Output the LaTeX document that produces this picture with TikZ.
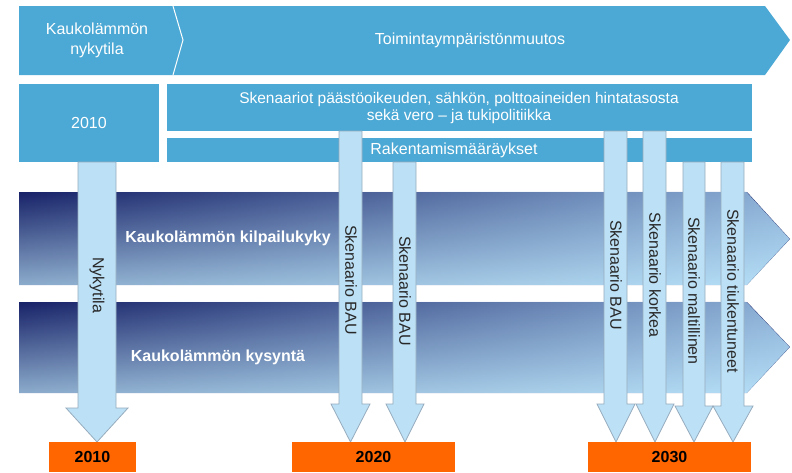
\documentclass[tikz,border=0pt]{standalone}
\usepackage{fontspec}
\setmainfont{Liberation Sans}
\usetikzlibrary{fadings}
\definecolor{topblue}{RGB}{76,168,212}
\definecolor{arrowfill}{RGB}{188,224,245}
\definecolor{arrowline}{RGB}{150,172,190}
\definecolor{bandLT}{RGB}{24,34,104}
\definecolor{bandLB}{RGB}{140,172,204}
\definecolor{bandRT}{RGB}{140,176,214}
\definecolor{bandRB}{RGB}{182,224,248}
\definecolor{yearorange}{RGB}{255,102,0}
\definecolor{labelgray}{RGB}{40,40,40}
\newcommand\fsz{\fontsize{16}{20}\selectfont}
\tikzfading[name=bandfade, left color=transparent!100, right color=transparent!0]
\begin{document}
\begin{tikzpicture}[x=1pt,y=-1pt,
  bluebox/.style={fill=topblue, draw=none},
  wlbl/.style={text=white, font=\fsz, inner sep=0pt, align=center},
  blbl/.style={text=white, font=\fsz\bfseries, inner sep=0pt},
  band/.style={top color=bandLT, bottom color=bandLB, draw=none},
  bandover/.style={top color=bandRT, bottom color=bandRB, path fading=bandfade, draw=none},
  varrow/.style={fill=arrowfill, draw=arrowline, line width=0.8pt, line join=miter},
  vlbl/.style={rotate=-90, text=labelgray, font=\fsz, inner sep=0pt},
  yearbox/.style={fill=yearorange, draw=none},
  ylbl/.style={text=black, font=\fsz\bfseries, inner sep=0pt}]
\useasboundingbox (0,0) rectangle (792,472);
\fill[white] (0,0) rectangle (792,472);

% top chevron bar
\fill[bluebox] (19,6) -- (765,6) -- (790,40) -- (765,75) -- (19,75) -- cycle;
\draw[white, line width=1pt] (173,6) -- (183,40) -- (173,75);
\node[wlbl] (nyky) at (97,40) {Kaukolämmön\\nykytila};
\node[wlbl] (toim) at (470,40) {Toimintaympäristönmuutos};

% second row
\fill[bluebox] (19,84) rectangle (159,162);
\node[wlbl] (y2010top) at (89,123) {2010};
\fill[bluebox] (167,84) rectangle (752,131);
\node[wlbl, font=\fontsize{15.5}{17.5}\selectfont] (skenaariot) at (459,108) {Skenaariot päästöoikeuden, sähkön, polttoaineiden hintatasosta\\sekä vero – ja tukipolitiikka};
\fill[bluebox] (167,138) rectangle (752,162);
\node[wlbl] (rak) at (454,150) {Rakentamismääräykset};

% bands
\shade[band] (19,192) -- (747,192) -- (790,239) -- (747,285) -- (19,285) -- cycle;
\shade[bandover] (19,192) -- (747,192) -- (790,239) -- (747,285) -- (19,285) -- cycle;
\shade[band] (19,302) -- (747,302) -- (790,347) -- (747,393) -- (19,393) -- cycle;
\shade[bandover] (19,302) -- (747,302) -- (790,347) -- (747,393) -- (19,393) -- cycle;
\node[blbl] (kilp) at (228,238) {Kaukolämmön kilpailukyky};
\node[blbl] (kys) at (218,357) {Kaukolämmön kysyntä};

% vertical arrows
\draw[varrow] (78,162) -- (78,408) -- (66,408) -- (97,442) -- (128,408) -- (116,408) -- (116,162) -- cycle;
\node[vlbl] (a1) at (97,285) {Nykytila};

\draw[varrow] (339,131) -- (339,404) -- (331,404) -- (350.5,442) -- (370,404) -- (362,404) -- (362,131) -- cycle;
\node[vlbl] (a2) at (351,280) {Skenaario BAU};

\draw[varrow] (393,162) -- (393,404) -- (386,404) -- (405,442) -- (424,404) -- (416,404) -- (416,162) -- cycle;
\node[vlbl] (a3) at (405,291) {Skenaario BAU};

\draw[varrow] (604,131) -- (604,404) -- (597,404) -- (616,442) -- (635,404) -- (627,404) -- (627,131) -- cycle;
\node[vlbl] (a4) at (616,275) {Skenaario BAU};

\draw[varrow] (643,131) -- (643,404) -- (636,404) -- (655,442) -- (674,404) -- (666,404) -- (666,131) -- cycle;
\node[vlbl] (a5) at (655,275) {Skenaario korkea};

\draw[varrow] (683,162) -- (683,406) -- (675,406) -- (694,442) -- (713,406) -- (705,406) -- (705,162) -- cycle;
\node[vlbl] (a6) at (694,291) {Skenaario maltillinen};

\draw[varrow] (721,162) -- (721,406) -- (713,406) -- (733,442) -- (753,406) -- (744,406) -- (744,162) -- cycle;
\node[vlbl] (a7) at (733,291) {Skenaario tiukentuneet};

% year boxes
\fill[yearbox] (49,442) rectangle (136,472);
\node[ylbl] (y2010) at (92.5,457) {2010};
\fill[yearbox] (292,442) rectangle (455,472);
\node[ylbl] (y2020) at (373.5,457) {2020};
\fill[yearbox] (588,442) rectangle (751,472);
\node[ylbl] (y2030) at (669.5,457) {2030};
\end{tikzpicture}
\end{document}
